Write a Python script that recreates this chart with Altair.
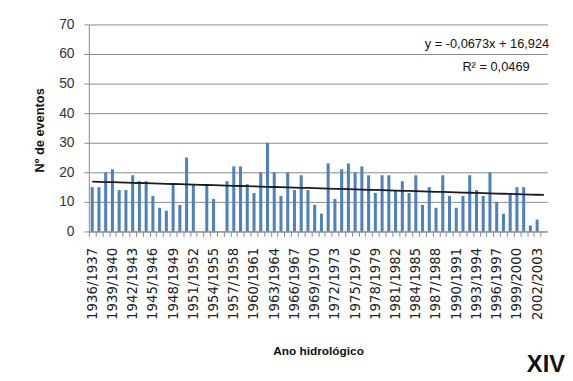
import altair as alt
import pandas as pd

start_years = list(range(1936, 2004))
seasons = [f"{y}/{y + 1}" for y in start_years]

events = [15, 15, 20, 21, 14, 14, 19, 17, 17, 12,
          8, 7, 16, 9, 25, 16, 0, 16, 11, 0,
          17, 22, 22, 16, 13, 20, 30, 20, 12, 20,
          14, 19, 14, 9, 6, 23, 11, 21, 23, 20,
          22, 19, 13, 19, 19, 14, 17, 13, 19, 9,
          15, 8, 19, 12, 8, 12, 19, 14, 12, 20,
          10, 6, 13, 15, 15, 2, 4, 0]

slope = -0.0673
intercept = 16.924
trend = [slope * (i + 1) + intercept for i in range(len(seasons))]

y_ticks = [0, 10, 20, 30, 40, 50, 60, 70]

df = pd.DataFrame({"season": seasons, "events": events, "trend": trend})

FONT = "Liberation Sans"

x_axis = alt.Axis(
    title="Ano hidrológico",
    titleFont=FONT,
    titleFontSize=12,
    titleFontWeight="bold",
    titleColor="#111",
    titleY=121,
    titleBaseline="middle",
    labelAngle=-90,
    labelFont="DejaVu Sans",
    labelFontSize=13.5,
    labelColor="#222",
    labelPadding=11,
    labelOverlap=False,
    labelExpr="(toNumber(substring(datum.value,0,4)) - 1936) % 3 == 0 ? datum.value : ''",
    tickSize=5,
    tickColor="#888",
    tickOffset=-3.4,
    labelOffset=3.4,
    domainColor="#888",
    grid=False,
)
x_scale = alt.Scale(paddingInner=0.55, paddingOuter=0.275)

y_axis = alt.Axis(
    values=y_ticks,
    title="Nº de eventos",
    titleFont=FONT,
    titleFontSize=13,
    titleFontWeight="bold",
    titleColor="#111",
    titleAngle=-90,
    titleX=-50,
    titleY=107,
    titleAlign="center",
    titleBaseline="middle",
    labelFont=FONT,
    labelFontSize=14,
    labelColor="#333",
    labelPadding=10,
    labelOverlap=False,
    tickSize=5,
    tickColor="#888",
    domainColor="#888",
    grid=True,
    gridColor="#8a8a8a",
    gridWidth=1,
)
y_scale = alt.Scale(domain=[0, 70], nice=False, zero=True)

bars = alt.Chart(df).mark_bar(color="#4f81bd").encode(
    x=alt.X("season:N", sort=None, scale=x_scale, axis=x_axis),
    y=alt.Y("events:Q", scale=y_scale, axis=y_axis),
)

line = alt.Chart(df).mark_line(color="#1a1a1a", strokeWidth=1.8).encode(
    x=alt.X("season:N", sort=None, scale=x_scale, axis=x_axis),
    y=alt.Y("trend:Q", scale=y_scale, axis=y_axis),
)

eq = alt.Chart(df.head(1)).mark_text(
    font=FONT, fontSize=13, color="#111", align="right", baseline="middle"
).encode(x=alt.value(467), y=alt.value(20), text=alt.value("y = -0,0673x + 16,924"))

r2 = alt.Chart(df.head(1)).mark_text(
    font=FONT, fontSize=13, color="#111", align="center", baseline="middle"
).encode(x=alt.value(413), y=alt.value(43), text=alt.value("R² = 0,0469"))

xiv = alt.Chart(df.head(1)).mark_text(
    font=FONT, fontSize=24, fontWeight="bold", color="#111", align="right", baseline="middle"
).encode(x=alt.value(483), y=alt.value(346), text=alt.value("XIV"))

chart = alt.layer(bars, line, eq, r2, xiv).properties(
    width=465,
    height=210,
    autosize=alt.AutoSizeParams(type="none"),
    padding={"left": 82, "top": 14, "right": 18, "bottom": 149},
).configure_view(stroke=None)

chart.save("out.html", embed_options={"renderer": "svg", "actions": False})
